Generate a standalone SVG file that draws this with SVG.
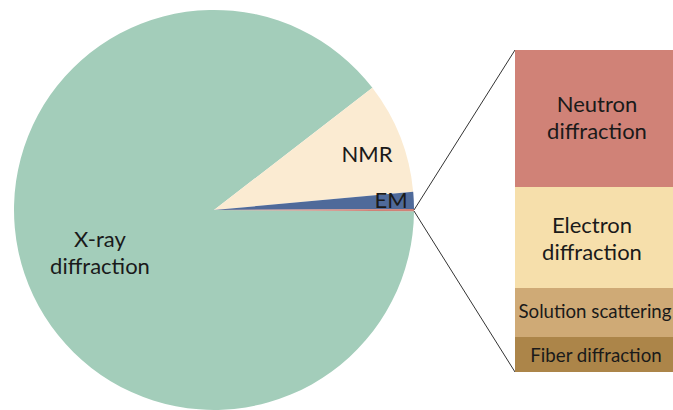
<svg xmlns="http://www.w3.org/2000/svg" width="673" height="410" viewBox="0 0 673 410">
<style>
text{font-family:Lato,"Open Sans","Liberation Sans",sans-serif;fill:#1a1a1a;text-anchor:middle}
.big{font-size:22px}
.sm{font-size:18.7px}
.conn{stroke:#333;stroke-width:1;fill:none}
</style>
<rect width="673" height="410" fill="#fff"/>
<g id="pie">
<g id="xray"><path d="M214,210 L414,211.2 A200,200 0 1 1 372.4,87.8 Z" fill="#A3CDBA"/>
<text class="big" x="100" y="247">X-ray</text><text class="big" x="100" y="274">diffraction</text></g>
<g id="nmr"><path d="M214,210 L372.4,87.8 A200,200 0 0 1 413.2,191.7 Z" fill="#FBEBD2"/>
<text class="big" x="367" y="162">NMR</text></g>
<g id="em"><path d="M214,210 L413.2,191.7 A200,200 0 0 1 414,208.95 Z" fill="#4F6A9A"/>
<text class="big" x="391" y="208">EM</text></g>
<g id="other"><path d="M214,210 L414,208.95 A200,200 0 0 1 414,211.2 Z" fill="#D08277"/></g>
</g>
<g id="connectors">
<line class="conn" x1="414" y1="210" x2="515" y2="50"/>
<line class="conn" x1="414" y1="211" x2="515" y2="372"/>
</g>
<g id="neutron"><rect x="515" y="50" width="158" height="137" fill="#D08277"/>
<text class="big" x="597" y="112">Neutron</text><text class="big" x="597" y="139">diffraction</text></g>
<g id="electron"><rect x="515" y="187" width="158" height="101" fill="#F6DFAB"/>
<text class="big" x="592" y="233">Electron</text><text class="big" x="592" y="260">diffraction</text></g>
<g id="solution"><rect x="515" y="288" width="158" height="49" fill="#CFAA76"/>
<text class="sm" x="595" y="318">Solution scattering</text></g>
<g id="fiber"><rect x="515" y="337" width="158" height="35" fill="#AC8549"/>
<text class="sm" x="596" y="362">Fiber diffraction</text></g>
</svg>
